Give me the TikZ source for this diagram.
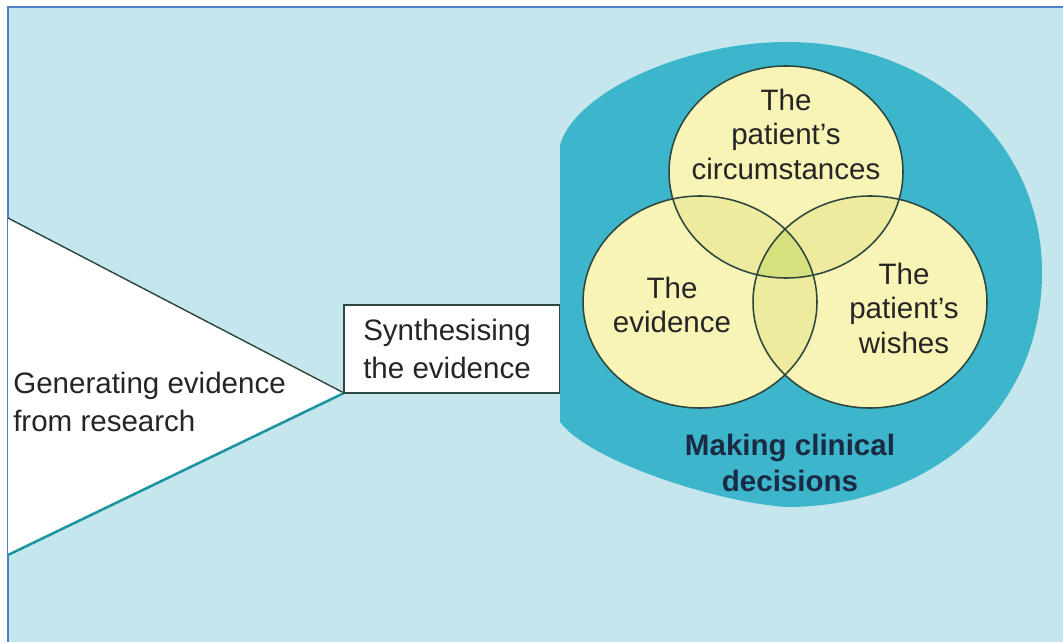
\documentclass[tikz,border=0pt]{standalone}
\usepackage{fontspec}
\setmainfont{Liberation Sans}
\usepackage{tikz}
\usetikzlibrary{positioning}

\definecolor{bgblue}{HTML}{C4E6EC}
\definecolor{frameblue}{HTML}{4F81C7}
\definecolor{ringteal}{HTML}{3DB6CB}
\definecolor{edgeteal}{HTML}{1A959E}
\definecolor{paleyel}{HTML}{F8F4B6}
\definecolor{pairyel}{HTML}{EEEB9E}
\definecolor{coreyel}{HTML}{D6E07C}
\definecolor{vennline}{HTML}{2E4640}
\definecolor{ink}{HTML}{252525}
\definecolor{navy}{HTML}{1B2A44}

\begin{document}
\begin{tikzpicture}[x=0.025cm, y=-0.025cm,
  venntext/.style={text=ink, font=\fontsize{21}{24.5}\selectfont, align=center, inner sep=0pt},
  sidetext/.style={text=ink, font=\fontsize{21}{27.5}\selectfont, align=left, inner sep=0pt, anchor=west},
  ringtext/.style={text=navy, font=\bfseries\fontsize{21}{26}\selectfont, align=center, inner sep=0pt},
  venn/.style={draw=vennline, line width=1.1pt}]
  \useasboundingbox (0,0) rectangle (1063,642);
  % background and frame
  \fill[white] (0,0) rectangle (1063,642);
  \fill[bgblue] (8,7) rectangle (1063,642);
  \draw[frameblue, line width=1.1pt] (8,642) -- (8,7) -- (1063,7);

  % research wedge
  \fill[white] (8,218) -- (344,393) -- (8,555) -- cycle;
  \draw[vennline, line width=1pt] (8,218) -- (344,393);
  \draw[edgeteal, line width=1.8pt] (344,393) -- (8,555);
  \node[sidetext] (research) at (13,402) {Generating evidence\\from research};

  % synthesis box
  \draw[vennline, fill=white, line width=0.9pt] (344,305) rectangle (560,393);
  \node[sidetext] (synth) at (363,349) {Synthesising\\the evidence};

  % decision ring
  \fill[ringteal] (560,145) .. controls (575,92) and (685,42) .. (787,42)
    .. controls (930,42) and (1042,140) .. (1042,272)
    .. controls (1042,420) and (920,507) .. (787,507)
    .. controls (720,503) and (590,462) .. (560,422) -- cycle;

  % venn fills
  \fill[paleyel] (786,172) ellipse [x radius=117, y radius=106];
  \fill[paleyel] (700,302) ellipse [x radius=117, y radius=106];
  \fill[paleyel] (870,302) ellipse [x radius=117, y radius=106];
  \begin{scope}
    \clip (786,172) ellipse [x radius=117, y radius=106];
    \fill[pairyel] (700,302) ellipse [x radius=117, y radius=106];
    \fill[pairyel] (870,302) ellipse [x radius=117, y radius=106];
  \end{scope}
  \begin{scope}
    \clip (700,302) ellipse [x radius=117, y radius=106];
    \fill[pairyel] (870,302) ellipse [x radius=117, y radius=106];
    \clip (786,172) ellipse [x radius=117, y radius=106];
    \fill[coreyel] (870,302) ellipse [x radius=117, y radius=106];
  \end{scope}
  \draw[venn] (786,172) ellipse [x radius=117, y radius=106];
  \draw[venn] (700,302) ellipse [x radius=117, y radius=106];
  \draw[venn] (870,302) ellipse [x radius=117, y radius=106];

  \node[venntext] (circs) at (786,134) {The\\patient’s\\circumstances};
  \node[venntext] (evid) at (672,305) {The\\evidence};
  \node[venntext] (wishes) at (904,308) {The\\patient’s\\wishes};
  \node[ringtext] (decide) at (790,463) {Making clinical\\decisions};
\end{tikzpicture}
\end{document}
